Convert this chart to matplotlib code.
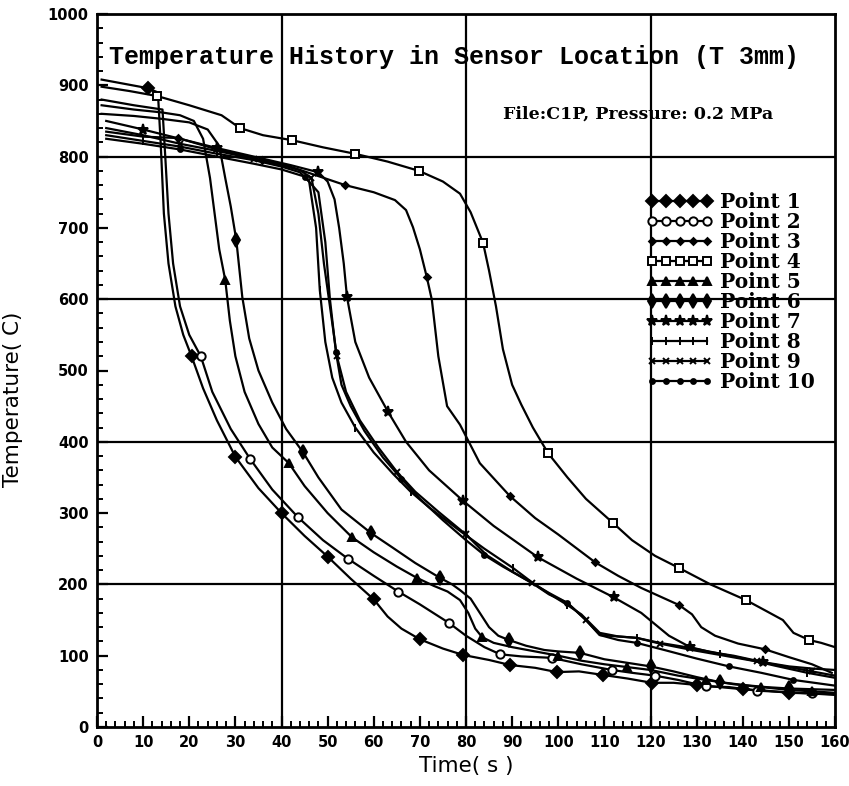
##################################################################
# Temperature History in Sensor Location (T 3mm) - recriacao
##################################################################
import matplotlib
matplotlib.use('Agg')
import matplotlib.pyplot as plt
from matplotlib.ticker import MultipleLocator

##################################################################
# Dados (tempo em s, temperatura em C)
t1 = [1, 6, 11, 13.2, 13.8, 14.5, 15.5, 17, 18.7, 20.5, 23, 26, 30, 35, 40, 45, 50, 55, 60, 63, 66, 70,
      75, 79.4, 85, 89.5, 95, 99.7, 104.5, 109.7, 115, 120.3, 125, 130, 135, 140, 145, 150, 155, 160]
T1 = [908, 902, 896, 890, 820, 720, 650, 590, 550, 520, 475, 430, 379, 335, 300, 268, 239, 208, 179, 155, 138, 123,
      110, 101, 94, 87, 83, 77, 78, 73, 68, 62, 62, 59, 56, 53, 51, 48, 47, 45]
m1 = [2, 9, 12, 14, 16, 18, 21, 23, 25, 27, 29, 31, 33, 35, 37]

t2 = [1, 8, 14.2, 14.8, 15.5, 16.5, 18, 20, 22.5, 25, 29, 33.2, 38, 43.6, 49, 54.4, 60, 65.3, 70, 76.3, 80, 84,
      87.4, 92, 98.6, 105, 111.6, 116, 121, 126, 132, 137, 143, 149, 155, 160]
T2 = [880, 872, 866, 800, 720, 650, 590, 550, 520, 470, 418, 376, 333, 294, 262, 236, 212, 190, 172, 146, 128, 112,
      102, 99, 97, 88, 80, 76, 72, 66, 57, 56, 51, 49, 47, 46]
m2 = [8, 11, 13, 15, 17, 19, 22, 24, 26, 28, 30, 32, 34]

t3 = [2, 10, 17.6, 25, 35.7, 40, 46, 53.8, 60, 64.6, 67, 68.5, 70, 71.5, 72.6, 74, 75.9, 78.7, 83, 89.5, 95, 100,
      108, 113, 118, 126.2, 129, 131, 134, 139, 144.8, 150, 155, 159.3]
T3 = [835, 828, 826, 812, 795, 790, 777, 760, 750, 739, 725, 701, 670, 631, 599, 520, 450, 424, 370, 324, 293, 270,
      231, 212, 195, 171, 158, 140, 128, 117, 109, 98, 88, 76]
m3 = [2, 4, 7, 13, 19, 22, 25, 30]

t4 = [1, 7, 13, 20, 27, 31, 36, 42.3, 49, 55.9, 63, 69.8, 75, 78.7, 81, 83.7, 85, 86.5, 88, 90, 92, 94.5, 97.8,
      102, 106, 111.9, 116, 121, 126.2, 133, 140.7, 145, 148.7, 151, 154.4, 157, 160]
T4 = [898, 892, 885, 872, 858, 840, 830, 823, 813, 804, 793, 780, 765, 748, 722, 679, 640, 590, 530, 480, 452, 420,
      384, 350, 320, 286, 262, 240, 223, 200, 178, 163, 150, 132, 122, 118, 112]
m4 = [2, 5, 7, 9, 11, 15, 22, 25, 28, 30, 34]

t5 = [1, 8, 14, 18, 21, 23, 24.5, 25.5, 26.5, 27.8, 28.8, 30, 32, 35, 38, 41.6, 45, 50, 55.3, 60, 65, 69.4, 73, 76,
      78.7, 80.5, 82, 83.5, 86, 90, 95, 100, 105, 110, 115, 120, 126, 132, 138, 144, 150, 155, 160]
T5 = [872, 866, 862, 858, 850, 825, 770, 720, 670, 627, 570, 520, 470, 425, 392, 370, 338, 300, 266, 245, 225, 209,
      198, 190, 178, 160, 138, 126, 118, 112, 106, 100, 93, 88, 84, 80, 72, 66, 60, 56, 52, 50, 48]
m5 = [9, 15, 18, 21, 27, 31, 34, 37, 39, 41]

t6 = [1, 8, 14, 20, 24, 26.5, 27.8, 29, 30.2, 31.5, 33, 35, 38, 41, 44.7, 48, 53, 59.4, 64, 69, 74.4, 77, 78.7, 81,
      83, 85, 87, 89.3, 93, 97, 100, 104.7, 110, 115, 120, 125, 130, 135, 140, 145, 150, 155, 160]
T6 = [860, 857, 853, 848, 838, 815, 770, 730, 683, 603, 545, 500, 455, 418, 385, 350, 305, 272, 252, 230, 209, 200,
      192, 180, 160, 140, 128, 122, 114, 108, 106, 104, 95, 90, 85, 78, 70, 63, 59, 56, 54, 53, 52]
m6 = [8, 14, 17, 20, 27, 31, 34, 37, 40]

t7 = [2, 10, 18, 26, 34, 42, 48, 50, 51.5, 52.5, 53.5, 54.2, 56, 59, 63.1, 67, 72, 79.4, 86, 95.6, 104, 108, 112,
      118, 124, 128.6, 133, 138, 144.4, 150, 155, 160]
T7 = [850, 838, 825, 812, 800, 788, 778, 765, 740, 700, 650, 603, 540, 490, 442, 400, 360, 317, 282, 238, 208, 195,
      182, 160, 128, 112, 105, 100, 91, 85, 82, 80]
m7 = [1, 3, 6, 11, 14, 17, 19, 22, 25, 28]

t8 = [2, 10, 18, 26, 34, 40, 44, 46, 47.5, 48.3, 49.5, 51, 53, 56, 60, 64.2, 68, 72, 78.7, 84, 90.2, 94.5, 98, 102,
      105, 109, 113, 117, 122, 128.6, 135, 141, 147, 154, 160]
T8 = [830, 822, 814, 804, 795, 786, 778, 765, 700, 613, 540, 490, 455, 420, 385, 355, 330, 308, 275, 250, 223, 202,
      187, 171, 158, 132, 127, 125, 118, 111, 103, 95, 86, 76, 69]
m8 = [1, 3, 5, 9, 13, 16, 20, 23, 27, 30, 33]

t9 = [2, 10, 18, 26, 34, 40, 44, 46.5, 48, 49.2, 50.5, 52, 54, 57, 61, 65, 69, 74, 80, 84.5, 90, 94.3, 98, 102, 106,
      109, 113, 117, 122, 129, 136, 143, 150, 155, 160]
T9 = [840, 830, 818, 808, 797, 788, 781, 770, 720, 650, 590, 520, 470, 430, 392, 358, 330, 302, 270, 241, 218, 202,
      188, 174, 150, 129, 127, 125, 117, 108, 100, 92, 84, 78, 72]
m9 = [2, 4, 7, 11, 15, 18, 21, 24, 28, 31, 33]

t10 = [2, 10, 18, 26, 34, 40, 45, 48, 49.5, 50.5, 51.8, 53, 55, 58, 62, 66, 70, 75, 80, 84, 88, 94.3, 98, 102, 106,
       109, 113, 117, 123, 130, 137, 144, 151, 160]
T10 = [825, 818, 810, 800, 790, 782, 772, 750, 680, 600, 526, 480, 450, 415, 378, 348, 320, 290, 262, 241, 225, 202,
       186, 174, 150, 129, 122, 118, 108, 96, 85, 76, 66, 58]
m10 = [2, 6, 10, 15, 19, 23, 27, 30, 32]

rotulos = ['Point 1', 'Point 2', 'Point 3', 'Point 4', 'Point 5',
           'Point 6', 'Point 7', 'Point 8', 'Point 9', 'Point 10']
tempos = [t1, t2, t3, t4, t5, t6, t7, t8, t9, t10]
temps = [T1, T2, T3, T4, T5, T6, T7, T8, T9, T10]
marcas_idx = [m1, m2, m3, m4, m5, m6, m7, m8, m9, m10]

# estilo dos marcadores: (marcador, tamanho, cor de preenchimento)
estilos = [('D', 6, 'black'), ('o', 6, 'white'), ('D', 3.5, 'black'), ('s', 6, 'white'),
           ('^', 6, 'black'), ('d', 7, 'black'), ('*', 8, 'black'), ('|', 6, 'black'),
           ('x', 4, 'black'), ('o', 3.5, 'black')]

##################################################################
# Figura
fig = plt.figure(figsize=(8.49, 7.86), dpi=100)
ax = fig.add_axes([97/849, 1-727/786, (835-97)/849, (727-14)/786])

for t, T, mi, (mk, ms, fc), lab in zip(tempos, temps, marcas_idx, estilos, rotulos):
    ax.plot(t, T, color='black', lw=1.6, marker=mk, ms=ms, mfc=fc, mec='black',
            mew=1.4, markevery=mi, label=lab)

# grade (apenas algumas linhas)
for gx in [40, 80, 120]:
    ax.axvline(gx, color='black', lw=1.6, zorder=0)
for gy in [200, 400, 600, 800]:
    ax.axhline(gy, color='black', lw=1.6, zorder=0)

ax.set_xlim(0, 160)
ax.set_ylim(0, 1000)
ax.xaxis.set_major_locator(MultipleLocator(10))
ax.xaxis.set_minor_locator(MultipleLocator(2))
ax.yaxis.set_major_locator(MultipleLocator(100))
ax.yaxis.set_minor_locator(MultipleLocator(20))
ax.tick_params(which='major', direction='in', length=8, width=1.6, labelsize=10.5, pad=6)
ax.tick_params(which='minor', direction='in', length=4, width=1.4)
for lb in ax.get_xticklabels() + ax.get_yticklabels():
    lb.set_fontweight('bold')
for sp in ax.spines.values():
    sp.set_linewidth(2)

ax.set_xlabel('Time( s )', fontsize=15.5, labelpad=4)
ax.set_ylabel('Temperature( C)', fontsize=15.5, labelpad=4)
ax.yaxis.set_label_coords(-0.1, 0.459)

ax.text(0.484, 0.94, 'Temperature History in Sensor Location (T 3mm)', transform=ax.transAxes,
        ha='center', va='center', fontsize=18, fontweight='bold', family='Liberation Mono')
ax.text(0.733, 0.86, 'File:C1P, Pressure: 0.2 MPa', transform=ax.transAxes,
        ha='center', va='center', fontsize=12.5, fontweight='bold', family='DejaVu Serif')

leg = ax.legend(loc='upper left', bbox_to_anchor=(0.7335, 0.762), frameon=False, numpoints=5,
                handlelength=3.3, handletextpad=0.35, labelspacing=0.0, borderaxespad=0.0,
                prop={'family': 'DejaVu Serif', 'weight': 'bold', 'size': 14.5})

fig.savefig('out.png', dpi=100)
##################################################################
